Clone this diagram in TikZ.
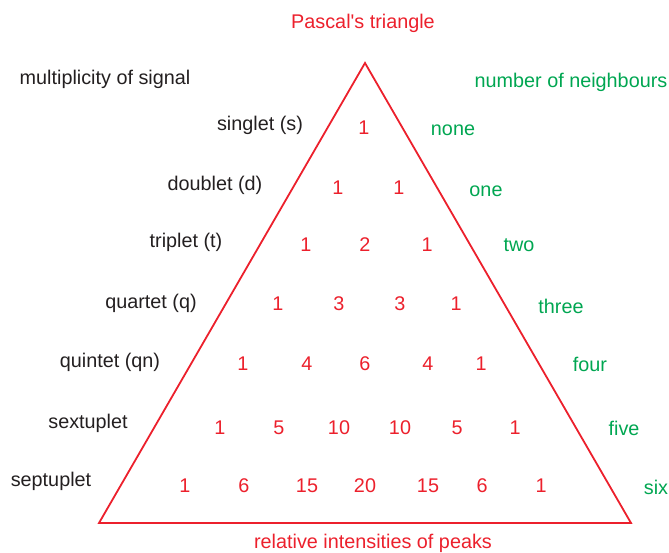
\documentclass[tikz,border=0pt]{standalone}
\usepackage{fontspec}
\newfontfamily\lsans{Liberation Sans}
\definecolor{pred}{RGB}{236,32,44}
\definecolor{pgreen}{RGB}{0,166,81}
\definecolor{ptext}{RGB}{35,31,32}
\begin{document}
\begin{tikzpicture}[x=1pt,y=-1pt,
  lbl/.style={font=\lsans\fontsize{19.8}{22}\selectfont, inner sep=0pt},
  mult/.style={lbl, text=ptext},
  neigh/.style={lbl, text=pgreen},
  num/.style={lbl, text=pred},
  edge/.style={draw=pred, line width=1.8pt, line join=miter}]
\useasboundingbox (0,0) rectangle (669,552);
% triangle
\coordinate (apex) at (365,63);
\coordinate (bl) at (99,523);
\coordinate (br) at (631,523);
\draw[edge] (apex) -- (bl) -- (br) -- cycle;
% titles
\node[num] (title) at (363,23) {Pascal's triangle};
\node[mult] (multhead) at (105,79) {multiplicity of signal};
\node[neigh] (neighhead) at (571,82) {number of neighbours};
\node[num] (bottom) at (373,543) {relative intensities of peaks};
% multiplicities
\node[mult] (m1) at (260,125) {singlet (s)};
\node[mult] (m2) at (215,185) {doublet (d)};
\node[mult] (m3) at (186,242) {triplet (t)};
\node[mult] (m4) at (151,303) {quartet (q)};
\node[mult] (m5) at (110,362) {quintet (qn)};
\node[mult] (m6) at (88,423) {sextuplet};
\node[mult] (m7) at (51,481) {septuplet};
% neighbours
\node[neigh] (n1) at (453,130) {none};
\node[neigh] (n2) at (486,191) {one};
\node[neigh] (n3) at (519,245) {two};
\node[neigh] (n4) at (561,306) {three};
\node[neigh] (n5) at (590,364) {four};
\node[neigh] (n6) at (624,428) {five};
\node[neigh] (n7) at (656,487) {six};
% row 1
\node[num] (r1a) at (364,128) {1};
% row 2
\node[num] (r2a) at (338,188) {1};
\node[num] (r2b) at (399,188) {1};
% row 3
\node[num] (r3a) at (306,245) {1};
\node[num] (r3b) at (365,245) {2};
\node[num] (r3c) at (427,245) {1};
% row 4
\node[num] (r4a) at (278,304) {1};
\node[num] (r4b) at (339,304) {3};
\node[num] (r4c) at (400,304) {3};
\node[num] (r4d) at (456,304) {1};
% row 5
\node[num] (r5a) at (243,364) {1};
\node[num] (r5b) at (307,364) {4};
\node[num] (r5c) at (365,364) {6};
\node[num] (r5d) at (428,364) {4};
\node[num] (r5e) at (481,364) {1};
% row 6
\node[num] (r6a) at (220,428) {1};
\node[num] (r6b) at (279,428) {5};
\node[num] (r6c) at (339,428) {10};
\node[num] (r6d) at (400,428) {10};
\node[num] (r6e) at (457,428) {5};
\node[num] (r6f) at (515,428) {1};
% row 7
\node[num] (r7a) at (185,486) {1};
\node[num] (r7b) at (244,486) {6};
\node[num] (r7c) at (307,486) {15};
\node[num] (r7d) at (365,486) {20};
\node[num] (r7e) at (428,486) {15};
\node[num] (r7f) at (482,486) {6};
\node[num] (r7g) at (541,486) {1};
\end{tikzpicture}
\end{document}
